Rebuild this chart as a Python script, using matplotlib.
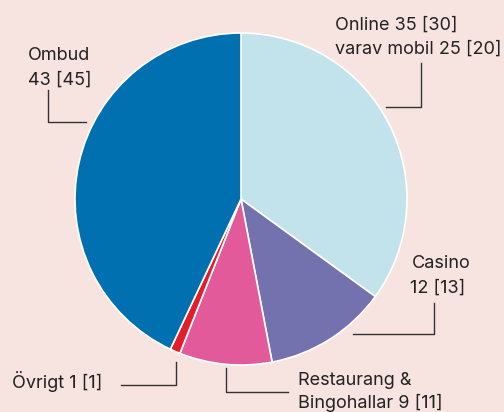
import matplotlib
matplotlib.use("Agg")
import matplotlib.pyplot as plt

# andelar i procent, föregående år inom hakparentes
categories = ["Online", "Casino", "Restaurang & Bingohallar", "Övrigt", "Ombud"]
values = [35, 12, 9, 1, 43]
colors = ["#c2e3ec", "#7472ae", "#e35a9a", "#e31e2a", "#0070b0"]

labels = [
    ["Online 35 [30]", "varav mobil 25 [20]"],
    ["Casino", "12 [13]"],
    ["Restaurang &", "Bingohallar 9 [11]"],
    ["Övrigt 1 [1]"],
    ["Ombud", "43 [45]"],
]

bg = "#f7e4e1"
W, H = 504, 412
plt.rcParams["font.family"] = ["Inter", "DejaVu Sans"]

fig = plt.figure(figsize=(W / 100, H / 100), dpi=100, facecolor=bg)
ax = fig.add_axes([0, 0, 1, 1])
ax.set_facecolor(bg)

def py(y):
    # pixel y (från toppen) -> data y
    return H - y

ax.pie(values, colors=colors, startangle=90, counterclock=False,
       center=(241, py(199)), radius=166, frame=True,
       wedgeprops=dict(edgecolor="white", linewidth=1.2))
ax.set_xlim(0, W)
ax.set_ylim(0, H)
ax.set_aspect("equal")
ax.axis("off")

# textplacering: (x, baslinje y, ha)
text_pos = [
    [(335, 30, "left"), (335, 54, "left")],
    [(441, 268, "center"), (438, 293, "center")],
    [(298, 385, "left"), (298, 408, "left")],
    [(12, 388, "left")],
    [(28, 60, "left"), (28, 85, "left")],
]
for lines, pos in zip(labels, text_pos):
    for s, (x, y, ha) in zip(lines, pos):
        ax.text(x, py(y), s, ha=ha, va="baseline", fontsize=13, color="#222222")

# hänvisningslinjer
leaders = [
    [(421, 63), (421, 107), (386, 107)],
    [(434, 303), (434, 334), (353, 334)],
    [(226, 368), (226, 392), (288, 392)],
    [(176, 362), (176, 385), (121, 385)],
    [(48, 90), (48, 122), (86, 122)],
]
for pts in leaders:
    xs = [p[0] for p in pts]
    ys = [py(p[1]) for p in pts]
    ax.plot(xs, ys, color="#333333", linewidth=1)

fig.savefig("out.png", dpi=100, facecolor=bg)
